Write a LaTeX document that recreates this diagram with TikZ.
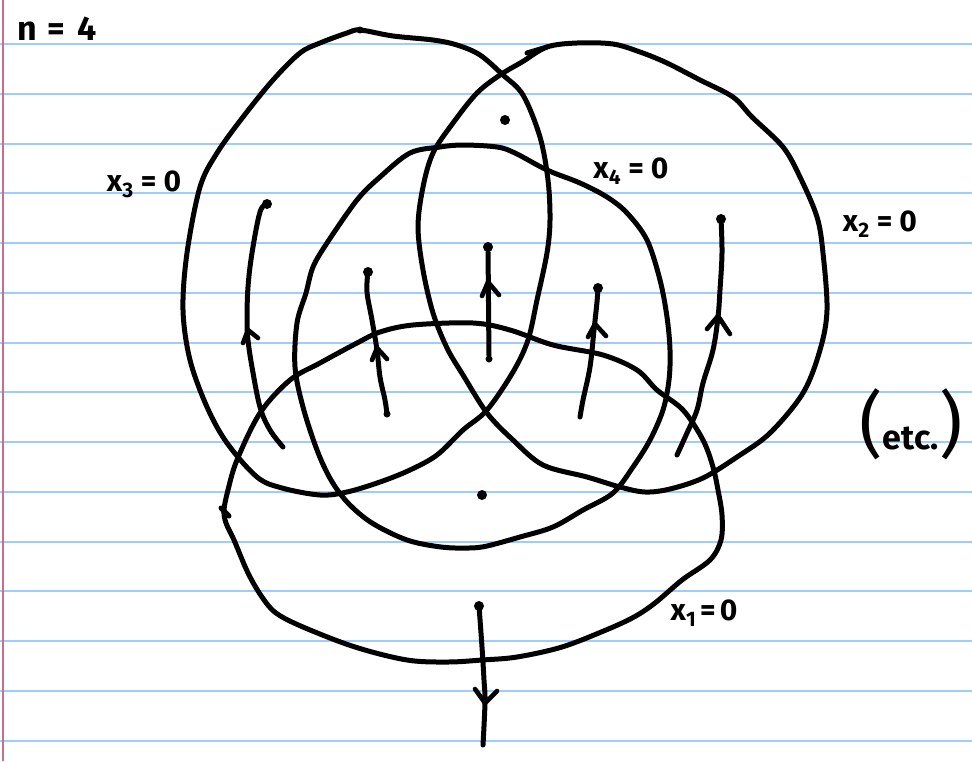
\documentclass[tikz,border=0pt]{standalone}
\usepackage{fontspec}
\setmainfont{Fira Sans}
\definecolor{ruleblue}{RGB}{160,204,250}
\definecolor{marginpink}{RGB}{196,112,140}
\newcommand{\labfont}{\fontsize{30}{34}\selectfont\bfseries}
\tikzset{
  ink/.style={line width=5pt, line cap=round, line join=round},
  barb/.style={line width=4.6pt, line cap=round, line join=round},
  rule/.style={draw=ruleblue, line width=2pt},
  dotmark/.style={fill=black, circle, inner sep=0pt, minimum size=10pt},
  smalldot/.style={fill=black, circle, inner sep=0pt, minimum size=7pt},
  lab/.style={font=\labfont, inner sep=0pt}
}
\begin{document}
\begin{tikzpicture}[x=1pt,y=-1pt]
\useasboundingbox (0,0) rectangle (972,761);
\fill[white] (0,0) rectangle (972,761);
% ruled paper
\foreach \k in {0,...,14}{
  \draw[rule] (0,{44+49.75*\k}) -- (972,{44+49.75*\k});
}
\draw[draw=marginpink, line width=2.5pt] (3,0) -- (3,761);

% circle x3 = 0
\draw[ink] plot[smooth cycle, tension=0.55] coordinates {
(360,30) (393,36) (433,40) (457,45) (480,55) (503,75) (523,95) (540,137) (548,180) (550,220) (547,253) (537,300) (528,340) (513,372) (487,410) (463,430) (437,455) (410,470) (380,482) (347,492) (320,495) (282,488) (257,477) (227,443) (207,407) (190,360) (183,310) (187,253) (200,187) (217,153) (243,117) (273,80) (300,53) (320,43) (347,33)};

% circle x2 = 0
\draw[ink] plot[smooth cycle, tension=0.55] coordinates {
(547,47) (577,43) (613,44) (640,52) (667,63) (700,80) (733,97) (752,117) (783,147) (800,177) (817,217) (823,253) (827,310) (820,350) (803,393) (770,433) (737,457) (703,478) (670,489) (645,492) (620,487) (587,477) (543,465) (513,440) (487,413) (463,375) (447,348) (433,313) (423,270) (418,227) (423,187) (433,153) (453,123) (477,93) (500,75) (522,62)};
\draw[ink] (527,53) -- (547,47);

% circle x4 = 0
\draw[ink] plot[smooth cycle, tension=0.55] coordinates {
(440,147) (463,145) (497,147) (515,153) (547,170) (580,183) (607,197) (627,213) (647,240) (660,280) (667,317) (670,350) (669,380) (663,410) (650,440) (633,467) (613,493) (583,510) (553,527) (520,537) (487,546) (469,548) (441,547) (407,540) (372,523) (348,503) (331,480) (317,450) (303,407) (295,367) (297,323) (306,293) (313,267) (327,243) (357,200) (380,177) (410,153)};

% ellipse x1 = 0
\draw[ink] plot[smooth cycle, tension=0.55] coordinates {
(224,510) (228,490) (237,460) (260,413) (290,380) (320,363) (357,343) (380,332) (413,325) (473,323) (510,330) (553,345) (603,355) (637,370) (657,390) (683,410) (703,440) (713,467) (718,490) (722,515) (721,540) (710,560) (682,580) (655,603) (634,617) (606,630) (562,647) (517,657) (482,660) (448,662) (407,660) (355,647) (303,627) (276,613) (262,597) (248,573) (234,540) (226,523)};
\draw[ink] (221,508) -- (229,516);

% dots
\node[smalldot] (topx3) at (360,30) {};
\node[dotmark] (dtop) at (505,120) {};
\node[dotmark] (dmid) at (482,495) {};

% flow line 1
\coordinate (f1s) at (283,447);
\node[dotmark] (f1e) at (267,204) {};
\draw[ink] plot[smooth, tension=0.6] coordinates {(f1s) (270,430) (260,407) (252,367) (248,340) (247,320) (248,287) (252,253) (260,212) (f1e)};
\coordinate (f1t) at (248,330);
\draw[barb] (243,343) -- (f1t) -- (258,338);

% flow line 2
\node[smalldot] (f2s) at (387,414) {};
\node[dotmark] (f2e) at (368,272) {};
\draw[ink] plot[smooth, tension=0.6] coordinates {(f2s) (385,400) (380,377) (377,350) (372,320) (367,292) (f2e)};
\coordinate (f2t) at (377,348);
\draw[barb] (372,360) -- (f2t) -- (387,359);

% flow line 3
\node[smalldot] (f3s) at (489,359) {};
\node[dotmark] (f3e) at (488,247) {};
\draw[ink] (f3s) -- (f3e);
\coordinate (f3t) at (488,282);
\draw[barb] (482,296) -- (f3t) -- (499,295);

% flow line 4
\coordinate (f4s) at (580,417);
\node[dotmark] (f4e) at (598,288) {};
\draw[ink] plot[smooth, tension=0.6] coordinates {(f4s) (583,400) (590,367) (594,330) (597,302) (f4e)};
\coordinate (f4t) at (595,324);
\draw[barb] (588,337) -- (f4t) -- (606,336);

% flow line 5
\coordinate (f5s) at (677,455);
\node[dotmark] (f5e) at (721,219) {};
\draw[ink] plot[smooth, tension=0.6] coordinates {(f5s) (687,433) (697,410) (703,383) (713,350) (718,317) (720,290) (722,253) (f5e)};
\coordinate (f5t) at (718,316);
\draw[barb] (707,329) -- (f5t) -- (730,334);

% flow line 6 (downward)
\node[dotmark] (f6s) at (479,606) {};
\coordinate (f6e) at (483,745);
\draw[ink] plot[smooth, tension=0.6] coordinates {(f6s) (482,647) (484,680) (485,702) (f6e)};
\coordinate (f6t) at (485,703);
\draw[barb] (475,689) -- (f6t) -- (497,691);

% labels
\node[lab] (ln) at (57,29) {\fontsize{34}{38}\selectfont n\hspace{10pt}=\hspace{12pt}4};
\node[lab] (l3) at (144,184) {x\textsubscript{3} = 0};
\node[lab] (l4) at (631,171) {x\textsubscript{4} = 0};
\node[lab] (l2) at (880,224) {x\textsubscript{2} = 0};
\node[lab] (l1) at (704,613) {x\textsubscript{1}\hspace{4pt}=\hspace{4pt}0};
\node[lab] (letc) at (911,424) {{\fontsize{72}{76}\selectfont\mdseries(}\fontsize{34}{38}\selectfont etc.{\fontsize{72}{76}\selectfont\mdseries)}};
\end{tikzpicture}
\end{document}
